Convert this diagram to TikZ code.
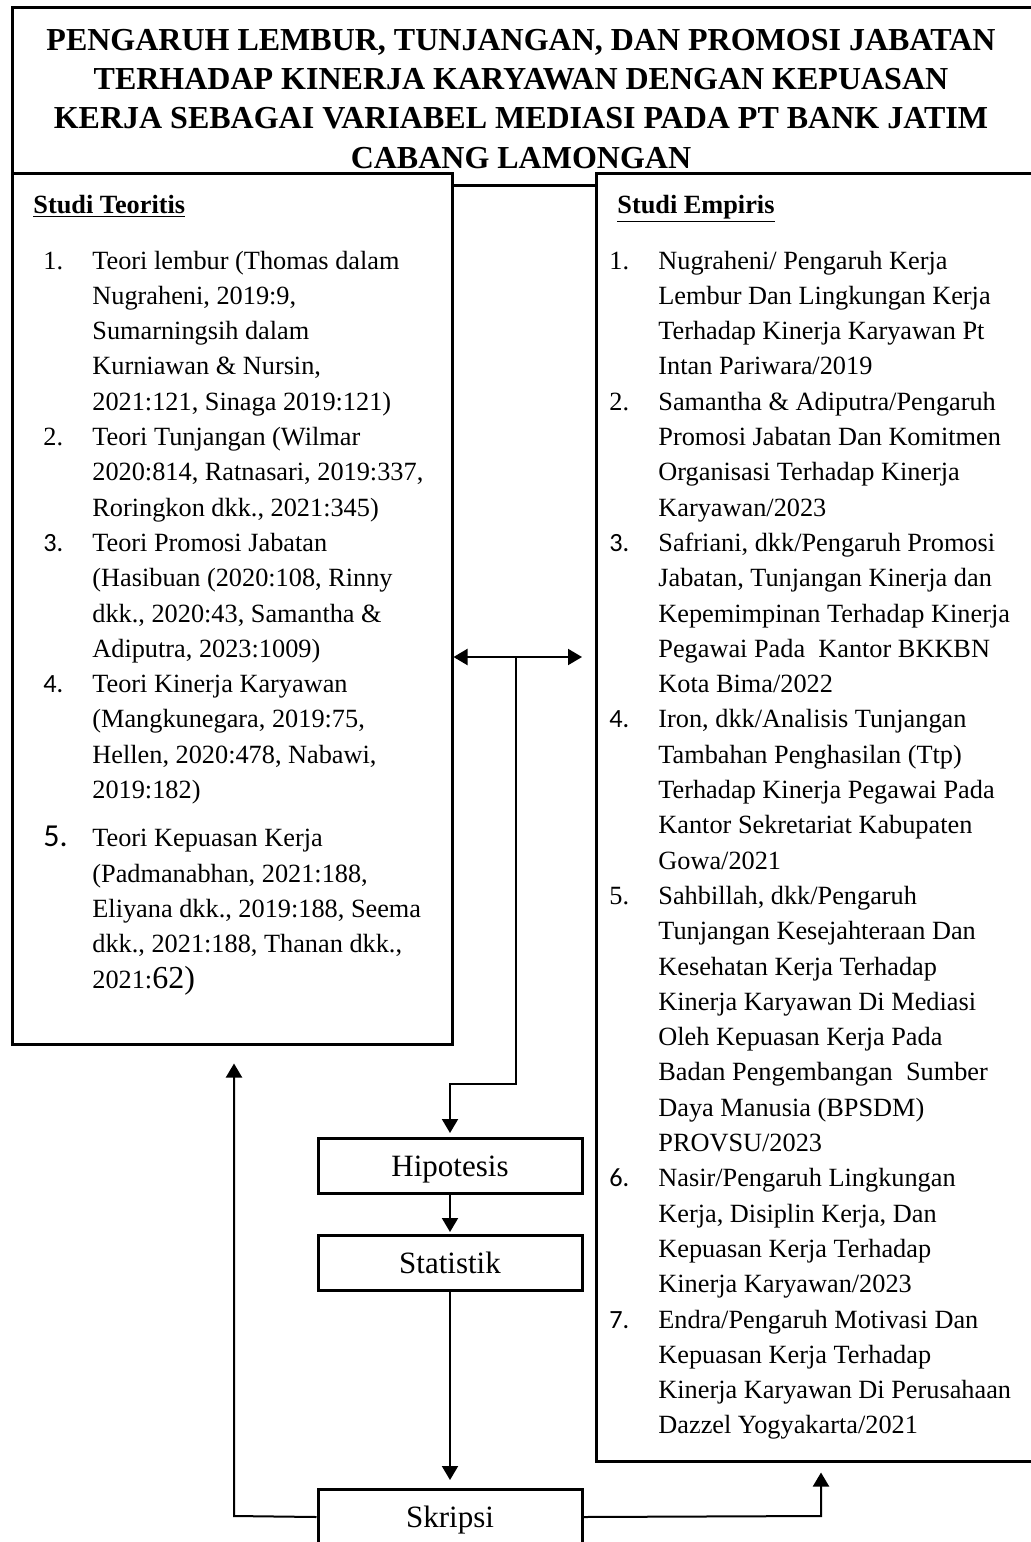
\documentclass[tikz,border=0pt]{standalone}
\usepackage{fontspec}
\setmainfont{Liberation Serif}
\newfontfamily\calibri{Carlito}
\usetikzlibrary{arrows.meta}
\newlength{\px}
\setlength{\px}{0.5pt}
\newcommand{\butir}[2]{\par\noindent\hangindent=49\px\hangafter=1\makebox[49\px][l]{#1}{\let\\\newline #2}\par}

\begin{document}
\begin{tikzpicture}[x=0.5pt,y=-0.5pt,
  kotak/.style={draw,line width=1.5pt,inner sep=0,fill=white},
  langkah/.style={kotak,minimum width=264\px,minimum height=55\px,text depth=0pt,font=\fontsize{15.5}{18}\selectfont},
  garis/.style={line width=1pt},
  panah/.style={garis,-{Triangle[length=7pt,width=8pt]}},
  daftar/.style={inner sep=0,anchor=base west,font=\fontsize{13.15}{17.65}\selectfont},
  kepala/.style={inner sep=0,anchor=base west,font=\bfseries\fontsize{13.15}{17.65}\selectfont}]
\useasboundingbox (0,0) rectangle (1030,1542);
\node[kotak,minimum width=1033\px,minimum height=178\px] (judul) at (528.5,96) {};
\node[kotak,minimum width=440\px,minimum height=871\px] (teoritis) at (232,608.5) {};
\node[kotak,minimum width=449\px,minimum height=1288\px] (empiris) at (820.5,817) {};
\node[inner sep=0,anchor=base,font=\bfseries\fontsize{16}{19.75}\selectfont] (judulteks) at (521,50)
  {\parbox[t]{1000\px}{\centering PENGARUH LEMBUR, TUNJANGAN, DAN PROMOSI JABATAN\\
  TERHADAP KINERJA KARYAWAN DENGAN KEPUASAN\\
  KERJA SEBAGAI VARIABEL MEDIASI PADA PT BANK JATIM\\
  CABANG LAMONGAN}};
\node[kepala] (labelteori) at (33,213) {\underline{Studi Teoritis}};
\node[kepala] (labelempiris) at (617,213) {\underline{Studi Empiris}};
\node[daftar] (isiteori) at (43,269) {\parbox[t]{400\px}{\raggedright
  \butir{1.}{Teori lembur (Thomas dalam\\Nugraheni, 2019:9,\\Sumarningsih dalam\\Kurniawan \& Nursin,\\2021:121, Sinaga 2019:121)}
  \butir{2.}{Teori Tunjangan (Wilmar\\2020:814, Ratnasari, 2019:337,\\Roringkon dkk., 2021:345)}
  \butir{\calibri 3.}{Teori Promosi Jabatan\\(Hasibuan (2020:108, Rinny\\dkk., 2020:43, Samantha \&\\Adiputra, 2023:1009)}
  \butir{\calibri 4.}{Teori Kinerja Karyawan\\(Mangkunegara, 2019:75,\\Hellen, 2020:478, Nabawi,\\2019:182)}
  \vspace{6.5pt}
  \butir{{\calibri\fontsize{16}{17.65}\selectfont 5.}}{Teori Kepuasan Kerja\\(Padmanabhan, 2021:188,\\Eliyana dkk., 2019:188, Seema\\dkk., 2021:188, Thanan dkk.,\\2021:{\fontsize{16}{17.65}\selectfont 62)}}}};
\node[daftar] (isiempiris) at (609,269) {\parbox[t]{430\px}{\raggedright
  \butir{1.}{Nugraheni/ Pengaruh Kerja\\Lembur Dan Lingkungan Kerja\\Terhadap Kinerja Karyawan Pt\\Intan Pariwara/2019}
  \butir{2.}{Samantha \& Adiputra/Pengaruh\\Promosi Jabatan Dan Komitmen\\Organisasi Terhadap Kinerja\\Karyawan/2023}
  \butir{\calibri 3.}{Safriani, dkk/Pengaruh Promosi\\Jabatan, Tunjangan Kinerja dan\\Kepemimpinan Terhadap Kinerja\\Pegawai Pada\ \ Kantor BKKBN\\Kota Bima/2022}
  \butir{\calibri 4.}{Iron, dkk/Analisis Tunjangan\\Tambahan Penghasilan (Ttp)\\Terhadap Kinerja Pegawai Pada\\Kantor Sekretariat Kabupaten\\Gowa/2021}
  \butir{5.}{Sahbillah, dkk/Pengaruh\\Tunjangan Kesejahteraan Dan\\Kesehatan Kerja Terhadap\\Kinerja Karyawan Di Mediasi\\Oleh Kepuasan Kerja Pada\\Badan Pengembangan\ \ Sumber\\Daya Manusia (BPSDM)\\PROVSU/2023}
  \butir{\calibri 6.}{Nasir/Pengaruh Lingkungan\\Kerja, Disiplin Kerja, Dan\\Kepuasan Kerja Terhadap\\Kinerja Karyawan/2023}
  \butir{\calibri 7.}{Endra/Pengaruh Motivasi Dan\\Kepuasan Kerja Terhadap\\Kinerja Karyawan Di Perusahaan\\Dazzel Yogyakarta/2021}}};
\node[langkah] (hipotesis) at (450,1166) {Hipotesis};
\node[langkah] (statistik) at (450,1263) {Statistik};
\node[langkah] (skripsi) at (450,1517) {Skripsi};
\coordinate (cabang) at (516,657);
\coordinate (belok) at (516,1084);
\coordinate (kiri) at (234,1516);
\coordinate (kanan) at (821,1516);
\draw[garis,{Triangle[length=7pt,width=8pt]}-{Triangle[length=7pt,width=8pt]},shorten >=6.25pt]
  (teoritis.east |- cabang) -- (empiris.west |- cabang);
\draw[panah,shorten >=2pt] (cabang) -- (belok) -| (hipotesis.north);
\draw[panah,shorten >=1pt] (hipotesis) -- (statistik);
\draw[panah,shorten >=4pt] (statistik) -- (skripsi);
\draw[panah,shorten >=9pt] (skripsi.west) -- (kiri) -- (kiri |- teoritis.south);
\draw[panah,shorten >=5pt] (skripsi.east) -- (kanan) -- (kanan |- empiris.south);
\end{tikzpicture}
\end{document}
